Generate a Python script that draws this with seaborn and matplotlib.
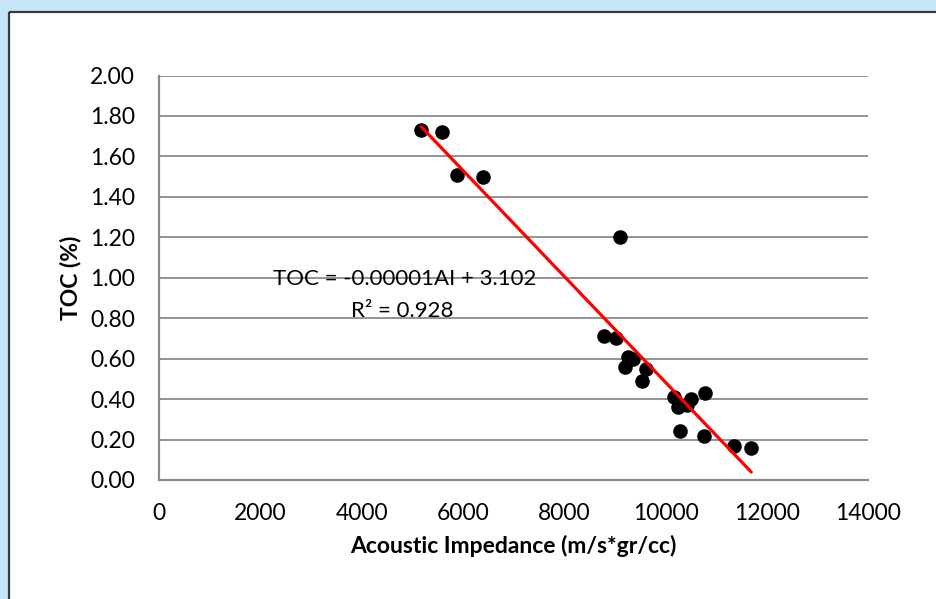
import numpy as np
import pandas as pd
import matplotlib
matplotlib.use("Agg")
import matplotlib.pyplot as plt
from matplotlib.patches import Rectangle
from matplotlib.lines import Line2D
import seaborn as sns

# Acoustic impedance (m/s*gr/cc) and total organic carbon (%) per sample
ai = [5170, 5580, 5870, 6390, 9100, 8790, 9020, 9250, 9350, 9200, 9620,
      9530, 10160, 10250, 10500, 10430, 10780, 10280, 10750, 11340, 11690]
toc = [1.73, 1.72, 1.51, 1.50, 1.20, 0.71, 0.70, 0.61, 0.60, 0.56, 0.55,
       0.49, 0.41, 0.36, 0.40, 0.37, 0.43, 0.24, 0.22, 0.17, 0.16]

# Linear trend: TOC = slope * AI + intercept
slope = -0.000262
intercept = 3.102
r_squared = 0.928

x_ticks = [0, 2000, 4000, 6000, 8000, 10000, 12000, 14000]
y_ticks = [0.0, 0.2, 0.4, 0.6, 0.8, 1.0, 1.2, 1.4, 1.6, 1.8, 2.0]

df = pd.DataFrame({"ai": ai, "toc": toc})

sns.set_theme(style="white")
plt.rcParams["font.family"] = ["Lato", "DejaVu Sans"]

W, H = 936, 599
fig = plt.figure(figsize=(W / 100, H / 100), dpi=100)
fig.patch.set_facecolor("#C5E6F8")

# white chart panel; only its top and left edges carry a dark frame
px, py = 9 / W, 1 - 12 / H
fig.patches.append(Rectangle((px, 0), 1 - px, py, transform=fig.transFigure,
                             facecolor="white", edgecolor="none", zorder=-10))
frame_kw = dict(transform=fig.transFigure, color="#3a3a3a", linewidth=1.6,
                zorder=-9, solid_capstyle="butt")
fig.lines.append(Line2D([px, px], [0, py], **frame_kw))
fig.lines.append(Line2D([px, 1], [py, py], **frame_kw))

ax = fig.add_axes([159.2 / W, 1 - 480 / H, (868.3 - 159.2) / W, (480 - 75.5) / H])
ax.set_facecolor("none")
ax.set_zorder(5)

grid_c = "#8a8a8a"
sns.scatterplot(data=df, x="ai", y="toc", ax=ax, s=110, color="black",
                edgecolor="black", linewidth=0, zorder=3)

xs = np.array([min(ai), max(ai)])
ax.plot(xs, slope * xs + intercept, color="#FF0000", linewidth=2.3, zorder=4)

ax.set_xlim(0, 14000)
ax.set_ylim(0, 2.0)
ax.set_xticks(x_ticks)
ax.set_yticks(y_ticks)
ax.set_xticklabels([str(v) for v in x_ticks])
ax.set_yticklabels([f"{v:.2f}" for v in y_ticks])

ax.yaxis.grid(True, color=grid_c, linewidth=1.3)
ax.xaxis.grid(False)
ax.set_axisbelow(True)
for side in ("top", "right"):
    ax.spines[side].set_visible(False)
for side in ("left", "bottom"):
    ax.spines[side].set_color(grid_c)
    ax.spines[side].set_linewidth(1.6)

ax.tick_params(axis="both", which="major", direction="out", length=5.5,
               width=1.3, color=grid_c, labelsize=16.5, labelcolor="black")
ax.tick_params(axis="x", pad=11)
ax.tick_params(axis="y", pad=12)

ax.set_xlabel("Acoustic Impedance (m/s*gr/cc)", fontsize=16.5,
              fontweight="bold", color="black", labelpad=8)
ax.set_ylabel("TOC (%)", fontsize=16.5, fontweight="bold", color="black",
              labelpad=6)

ax.text(4850, 0.995, "TOC = -0.00001AI + 3.102", ha="center", va="center",
        fontsize=16, color="black", zorder=5)
ax.text(4800, 0.835, f"R\u00b2 = {r_squared:.3f}", ha="center", va="center",
        fontsize=16, color="black", zorder=5)

fig.savefig("out.png", dpi=100, facecolor=fig.get_facecolor())
